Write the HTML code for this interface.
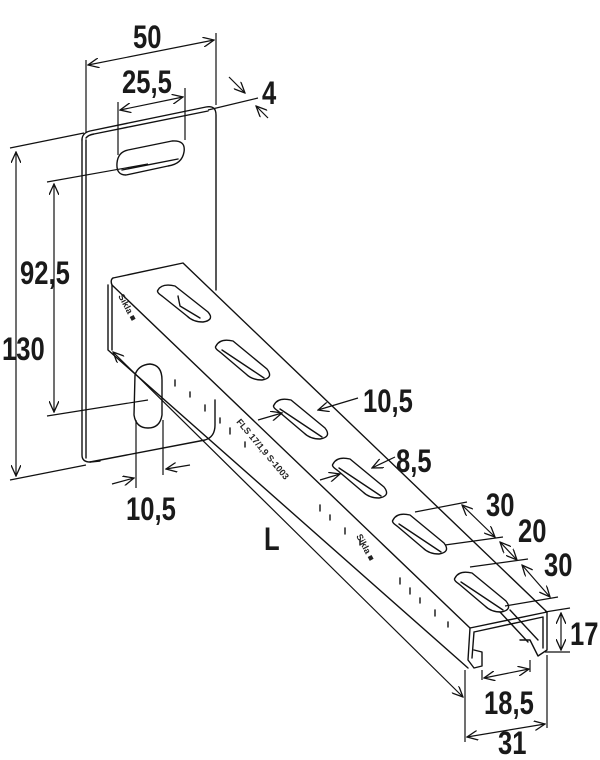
<!DOCTYPE html>
<html><head><meta charset="utf-8"><style>
html,body{margin:0;padding:0;background:#fff}
svg{display:block}
.d{font-family:"Liberation Sans",sans-serif;font-weight:bold;font-size:32px;fill:#1a1a1a}
.s{font-family:"Liberation Sans",sans-serif;font-weight:bold;font-size:9px;fill:#222}
</style></head><body>
<svg width="600" height="760" viewBox="0 0 600 760" xmlns="http://www.w3.org/2000/svg">
<defs>
<marker id="a" viewBox="0 0 12 10" refX="11" refY="5" markerWidth="12" markerHeight="10" orient="auto-start-reverse" markerUnits="userSpaceOnUse">
<path d="M0,0 L11,5 L0,10" fill="none" stroke="#111" stroke-width="1.3"/>
</marker>
</defs>
<g fill="none" stroke="#111" stroke-width="1.4" stroke-linecap="round" stroke-linejoin="round">
<!-- plate -->
<path d="M82,140 Q82,133 90,131 L206,107 Q216,105 216,115 L216,290"/>
<path d="M86,138 Q88,135 94,134 L208,111"/>
<path d="M82,140 L82,455 Q82,462 90,462 L100,461"/>
<path d="M86,140 L86,458"/>
<path d="M90,462 L205,440 Q215,437 215,425 L215,400"/>
<path d="M128,150 L172,141 Q186,140 184,152 Q182,164 168,166 L126,175 Q116,175 117,163 Q118,152 128,150 Z"/>
<path d="M122,170 L178,159"/>
<path d="M135,375 Q138,365 150,364 Q162,365 162,380 L162,415 Q160,428 148,428 Q136,428 134,415 Z"/>
<!-- channel -->
<path d="M113,278 L183,263 L547,612"/>
<path d="M113,278 Q110,280 112,285 L470,628"/>
<path d="M108,285 L108,350 L468,668"/>
<path d="M112,285 L112,350"/>
<path d="M470,628 L547,612 L547,650 L538,656 L530,640 L520,640 M470,628 L468,660 L474,668 L482,666 L482,652 L474,650"/>
<path d="M474,632 L543,617 L543,648 M474,632 L472,658"/>
<path d="M500,612 L528,642 M510,610 L538,640"/>
<!-- top slots -->
<path d="M158,290 Q162,283 175,286 L208,312 Q215,320 203,322 Q193,322 187,316 L162,296 Q156,292 158,290 Z"/>
<path d="M178,296 L180,306 L200,318"/>
<path d="M216,346 Q220,338 233,341 L267,369 Q274,378 262,380 Q252,380 246,374 L220,352 Q214,348 216,346 Z"/>
<path d="M222,350 L264,378"/>
<path d="M274,405 Q278,397 291,400 L325,428 Q332,437 320,439 Q310,439 304,433 L278,411 Q272,407 274,405 Z"/>
<path d="M280,409 L322,437"/>
<path d="M333,464 Q337,456 350,459 L384,487 Q391,496 379,498 Q369,498 363,492 L337,470 Q331,466 333,464 Z"/>
<path d="M339,468 L381,496"/>
<path d="M393,520 Q397,512 410,515 L444,543 Q451,552 439,554 Q429,554 423,548 L397,526 Q391,522 393,520 Z"/>
<path d="M399,524 L441,552"/>
<path d="M455,578 Q459,570 472,573 L506,601 Q513,610 501,612 Q491,612 485,606 L459,584 Q453,580 455,578 Z"/>
<path d="M461,582 L503,610"/>
<path d="M175,380 l0,6 M190,392 l0,5 M205,405 l0,6 M220,418 l0,5 M230,428 l0,6 M245,442 l0,5 M320,505 l0,6 M330,515 l0,5 M345,528 l0,6 M360,540 l0,5 M400,578 l0,6 M410,588 l0,6 M420,598 l0,5 M435,610 l0,6 M448,622 l0,5"/>
</g>
<text class="s" transform="translate(118,296) rotate(62)">Sikla ■</text>
<text class="s" transform="translate(356,536) rotate(62)">Sikla ■</text>
<text class="s" transform="translate(236,422) rotate(50)">FLS 17/1,9 S-1003</text>
<g fill="none" stroke="#111" stroke-width="1.2">
<path d="M86,60 L86,133 M216,33 L216,105"/>
<path d="M88,65 L214,40" marker-start="url(#a)" marker-end="url(#a)"/>
<path d="M118,102 L118,155 M185,88 L185,140"/>
<path d="M120,110 L183,97" marker-start="url(#a)" marker-end="url(#a)"/>
<path d="M208,110 L258,98"/>
<path d="M229,77 L245,93" marker-end="url(#a)"/>
<path d="M268,118 L256,106" marker-end="url(#a)"/>
<path d="M10,148 L84,133 M10,480 L86,465"/>
<path d="M16,152 L16,476" marker-start="url(#a)" marker-end="url(#a)"/>
<path d="M47,182 L148,164 M47,416 L148,400"/>
<path d="M54,184 L54,412" marker-start="url(#a)" marker-end="url(#a)"/>
<path d="M136,420 L136,488 M163,420 L163,475"/>
<path d="M112,484 L134,478" marker-end="url(#a)"/>
<path d="M190,465 L166,469" marker-end="url(#a)"/>
<path d="M113,352 L463,697" marker-start="url(#a)" marker-end="url(#a)"/>
<path d="M358,398 L318,410" marker-end="url(#a)"/>
<path d="M258,420 L282,413" marker-end="url(#a)"/>
<path d="M395,457 L372,468" marker-end="url(#a)"/>
<path d="M320,480 L340,474" marker-end="url(#a)"/>
<path d="M415,512 L467,502 M445,545 L503,537 M470,567 L528,559 M505,606 L558,597"/>
<path d="M462,505 L495,537" marker-start="url(#a)" marker-end="url(#a)"/>
<path d="M500,542 L517,560" marker-start="url(#a)" marker-end="url(#a)"/>
<path d="M522,565 L550,597" marker-start="url(#a)" marker-end="url(#a)"/>
<path d="M545,612 L570,608 M545,652 L570,652"/>
<path d="M561,613 L561,650" marker-start="url(#a)" marker-end="url(#a)"/>
<path d="M482,670 L482,680 M530,660 L530,672"/>
<path d="M484,678 L529,669" marker-start="url(#a)" marker-end="url(#a)"/>
<path d="M465,670 L465,742 M547,655 L547,728"/>
<path d="M467,737 L545,724" marker-start="url(#a)" marker-end="url(#a)"/>
</g>
<text class="d" transform="translate(133,48) scale(0.8,1)">50</text>
<text class="d" transform="translate(122,93) scale(0.8,1)">25,5</text>
<text class="d" transform="translate(262,104) scale(0.8,1)">4</text>
<text class="d" transform="translate(2,360) scale(0.8,1)">130</text>
<text class="d" transform="translate(20,284) scale(0.8,1)">92,5</text>
<text class="d" transform="translate(126,520) scale(0.8,1)">10,5</text>
<text class="d" transform="translate(264,550) scale(0.8,1)">L</text>
<text class="d" transform="translate(363,412) scale(0.8,1)">10,5</text>
<text class="d" transform="translate(396,472) scale(0.8,1)">8,5</text>
<text class="d" transform="translate(486,516) scale(0.8,1)">30</text>
<text class="d" transform="translate(518,542) scale(0.8,1)">20</text>
<text class="d" transform="translate(544,576) scale(0.8,1)">30</text>
<text class="d" transform="translate(570,645) scale(0.8,1)">17</text>
<text class="d" transform="translate(484,714) scale(0.8,1)">18,5</text>
<text class="d" transform="translate(498,754) scale(0.8,1)">31</text>
</svg>
</body></html>
